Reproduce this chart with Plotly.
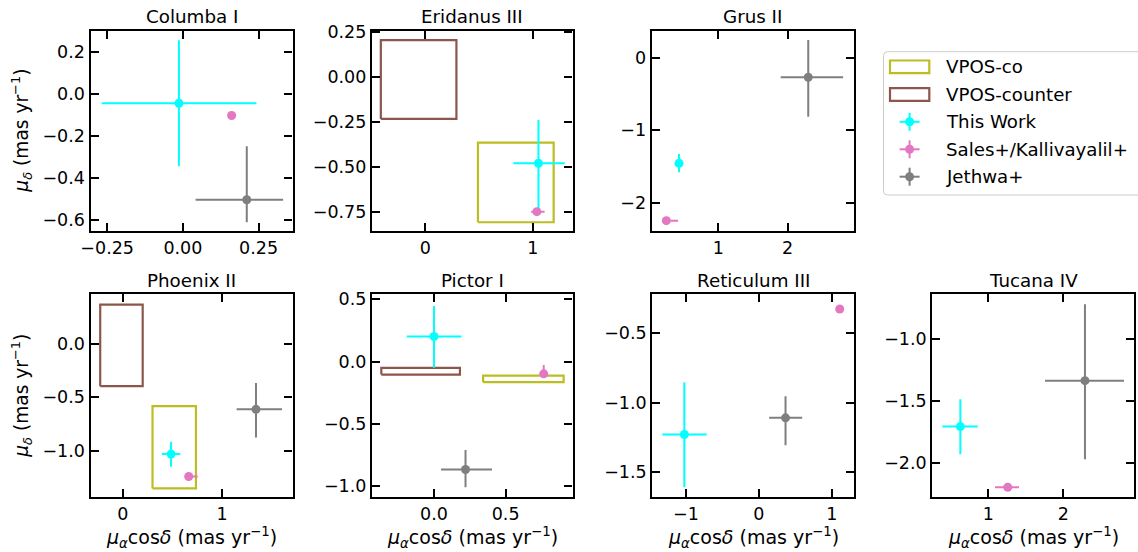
import plotly.graph_objects as go

W, H = 1138, 552

galaxies = ["Columba I", "Eridanus III", "Grus II", "Phoenix II", "Pictor I", "Reticulum III", "Tucana IV"]

# This Work (cyan)
tw_pmra = [-0.013, 1.052, 0.433, 0.487, 0.000, -1.023, 0.627]
tw_pmra_lo = [0.255, 0.234, 0.05, 0.093, 0.190, 0.302, 0.240]
tw_pmra_hi = [0.256, 0.244, 0.05, 0.093, 0.192, 0.307, 0.232]
tw_pmdec = [-0.045, -0.480, -1.457, -1.031, 0.201, -1.228, -1.705]
tw_pmdec_lo = [0.299, 0.251, 0.123, 0.118, 0.251, 0.380, 0.222]
tw_pmdec_hi = [0.299, 0.241, 0.127, 0.115, 0.246, 0.376, 0.221]

# Sales+/Kallivayalil+ (pink)
sa_pmra = [0.161, 1.037, 0.250, 0.665, 0.766, 1.110, 1.259]
sa_pmra_lo = [0.01, 0.053, 0.05, 0.04, 0.02, 0.02, 0.170]
sa_pmra_hi = [0.01, 0.072, 0.17, 0.09, 0.02, 0.02, 0.150]
sa_pmdec = [-0.103, -0.750, -2.248, -1.240, -0.099, -0.325, -2.193]
sa_pmdec_lo = [0.01, 0.02, 0.02, 0.03, 0.03, 0.02, 0.02]
sa_pmdec_hi = [0.01, 0.02, 0.02, 0.03, 0.07, 0.02, 0.02]

# Jethwa+ (gray); no value for Eridanus III
je_pmra = [0.211, None, 2.297, 1.343, 0.220, 0.366, 2.289]
je_pmra_lo = [0.169, None, 0.397, 0.195, 0.171, 0.225, 0.533]
je_pmra_hi = [0.120, None, 0.503, 0.262, 0.185, 0.229, 0.520]
je_pmdec = [-0.504, None, -0.270, -0.614, -0.868, -1.108, -1.335]
je_pmdec_lo = [0.107, None, 0.544, 0.262, 0.142, 0.197, 0.633]
je_pmdec_hi = [0.254, None, 0.514, 0.246, 0.157, 0.156, 0.615]

# VPOS predictions (rectangles)
vpos_galaxies = ["Eridanus III", "Phoenix II", "Pictor I"]
co_ra_min = [0.490, 0.300, 0.343]
co_ra_max = [1.193, 0.738, 0.905]
co_dec_min = [-0.809, -1.351, -0.166]
co_dec_max = [-0.365, -0.584, -0.113]
ct_ra_min = [-0.412, -0.227, -0.368]
ct_ra_max = [0.290, 0.201, 0.181]
ct_dec_min = [-0.233, -0.398, -0.105]
ct_dec_max = [0.207, 0.363, -0.051]

# tick values / labels per panel
x_ticks = [[-0.25, 0.0, 0.25], [0, 1], [1, 2], [0, 1], [0.0, 0.5], [-1, 0, 1], [1, 2]]
x_ticktext = [["−0.25", "0.00", "0.25"], ["0", "1"], ["1", "2"], ["0", "1"], ["0.0", "0.5"], ["−1", "0", "1"], ["1", "2"]]
y_ticks = [[0.2, 0.0, -0.2, -0.4, -0.6], [0.25, 0.0, -0.25, -0.5, -0.75], [0, -1, -2], [0.0, -0.5, -1.0],
           [0.5, 0.0, -0.5, -1.0], [-0.5, -1.0, -1.5], [-1.0, -1.5, -2.0]]
y_ticktext = [["0.2", "0.0", "−0.2", "−0.4", "−0.6"], ["0.25", "0.00", "−0.25", "−0.50", "−0.75"], ["0", "−1", "−2"],
              ["0.0", "−0.5", "−1.0"], ["0.5", "0.0", "−0.5", "−1.0"], ["−0.5", "−1.0", "−1.5"], ["−1.0", "−1.5", "−2.0"]]

# layout geometry (pixels)
x_ranges = [[-0.305, 0.362], [-0.494, 1.368], [0.039, 2.957], [-0.325, 1.711], [-0.433, 0.967], [-1.463, 1.306], [0.253, 2.943]]
y_ranges = [[-0.651, 0.300], [-0.856, 0.259], [-2.386, 0.372], [-1.434, 0.459], [-1.091, 0.540], [-1.680, -0.219], [-2.274, -0.640]]
panel_px = [(90.5, 292.5, 30.7, 230.7), (372, 572.5, 30.7, 230.7), (651.7, 854, 30.7, 230.7),
            (90.5, 292.5, 294.3, 497.3), (372, 572.5, 294.3, 497.3), (652.3, 854, 294.3, 497.3), (932.3, 1134, 294.3, 497.3)]

CYAN = "#00ffff"
PINK = "#e377c2"
GRAY = "#7f7f7f"
OLIVE = "#bcbd22"
BROWN = "#8c564b"
FONT = "DejaVu Sans"


def px(x):
    return x / W


def py(y):
    return 1 - y / H


fig = go.Figure()
layout = dict(width=W, height=H, margin=dict(l=0, r=0, t=0, b=0, pad=0, autoexpand=False),
              plot_bgcolor="white", paper_bgcolor="white",
              showlegend=False, font=dict(family=FONT, size=17.5, color="black"))
annotations = []
shapes = []

for i, name in enumerate(galaxies):
    k = "" if i == 0 else str(i + 1)
    xa, ya = "x" + k, "y" + k
    x0, x1, y0, y1 = panel_px[i]
    axis_common = dict(showline=True, linecolor="black", linewidth=2.2, mirror="ticks", ticks="inside",
                       ticklen=8, tickwidth=2.2, tickcolor="black", showgrid=False, zeroline=False,
                       automargin=False, tickfont=dict(family=FONT, size=17.5, color="black"))
    layout["xaxis" + k] = dict(axis_common, domain=[px(x0), px(x1)], anchor=ya, range=x_ranges[i],
                               tickvals=x_ticks[i], ticktext=x_ticktext[i])
    layout["yaxis" + k] = dict(axis_common, domain=[py(y1), py(y0)], anchor=xa, range=y_ranges[i],
                               tickvals=y_ticks[i], ticktext=y_ticktext[i])

    # VPOS rectangles
    if name in vpos_galaxies:
        j = vpos_galaxies.index(name)
        for rmin, rmax, dmin, dmax, col in [(co_ra_min[j], co_ra_max[j], co_dec_min[j], co_dec_max[j], OLIVE),
                                            (ct_ra_min[j], ct_ra_max[j], ct_dec_min[j], ct_dec_max[j], BROWN)]:
            fig.add_trace(go.Scatter(x=[rmin, rmax, rmax, rmin, rmin], y=[dmin, dmin, dmax, dmax, dmin],
                                     mode="lines", line=dict(color=col, width=2.2), xaxis=xa, yaxis=ya,
                                     hoverinfo="skip"))

    series = [
        (tw_pmra, tw_pmra_lo, tw_pmra_hi, tw_pmdec, tw_pmdec_lo, tw_pmdec_hi, CYAN),
        (sa_pmra, sa_pmra_lo, sa_pmra_hi, sa_pmdec, sa_pmdec_lo, sa_pmdec_hi, PINK),
        (je_pmra, je_pmra_lo, je_pmra_hi, je_pmdec, je_pmdec_lo, je_pmdec_hi, GRAY),
    ]
    for ra, ralo, rahi, de, delo, dehi, col in series:
        if ra[i] is None:
            continue
        fig.add_trace(go.Scatter(
            x=[ra[i]], y=[de[i]], mode="markers", xaxis=xa, yaxis=ya,
            marker=dict(color=col, size=9, line=dict(width=0)),
            error_x=dict(type="data", symmetric=False, array=[rahi[i]], arrayminus=[ralo[i]],
                         color=col, thickness=2, width=0),
            error_y=dict(type="data", symmetric=False, array=[dehi[i]], arrayminus=[delo[i]],
                         color=col, thickness=2, width=0),
        ))

    # panel title
    annotations.append(dict(text=name, x=px((x0 + x1) / 2), y=py(y0 - 14), xref="paper", yref="paper",
                            showarrow=False, xanchor="center", yanchor="middle",
                            font=dict(family=FONT, size=18.3, color="black")))
    # x labels for bottom row
    if i >= 3:
        annotations.append(dict(text="<i>μ<sub>α</sub></i>cos<i>δ</i> (mas yr<sup>−1</sup>)",
                                x=px((x0 + x1) / 2), y=py(537), xref="paper", yref="paper",
                                showarrow=False, xanchor="center", yanchor="middle",
                                font=dict(family=FONT, size=19, color="black")))
    if i in (0, 3):
        annotations.append(dict(text="<i>μ<sub>δ</sub></i> (mas yr<sup>−1</sup>)", textangle=-90,
                                x=px(22), y=py((y0 + y1) / 2), xref="paper", yref="paper",
                                showarrow=False, xanchor="center", yanchor="middle",
                                font=dict(family=FONT, size=18.6, color="black")))

# ---- legend (drawn manually) ----
lx0, lx1, ly0, ly1, r = 883.5, 1150, 51.7, 195, 4
path = (f"M {px(lx0 + r)},{py(ly0)} L {px(lx1)},{py(ly0)} L {px(lx1)},{py(ly1)} L {px(lx0 + r)},{py(ly1)} "
        f"Q {px(lx0)},{py(ly1)} {px(lx0)},{py(ly1 - r)} L {px(lx0)},{py(ly0 + r)} "
        f"Q {px(lx0)},{py(ly0)} {px(lx0 + r)},{py(ly0)} Z")
shapes.append(dict(type="path", path=path, xref="paper", yref="paper", line=dict(color="#cccccc", width=1),
                   fillcolor="rgba(255,255,255,0.8)", layer="above"))

legend_labels = ["VPOS-co", "VPOS-counter", "This Work", "Sales+/Kallivayalil+", "Jethwa+"]
legend_y = [66.8, 94.5, 121.8, 149.3, 176.7]
legend_colors = [OLIVE, BROWN, CYAN, PINK, GRAY]
for lab, yy, col in zip(legend_labels, legend_y, legend_colors):
    if lab.startswith("VPOS"):
        shapes.append(dict(type="rect", xref="paper", yref="paper", x0=px(890), x1=px(929.3),
                           y0=py(yy - 6.3), y1=py(yy + 6.3), line=dict(color=col, width=2.2), layer="above"))
    else:
        cx = 909.6
        shapes.append(dict(type="line", xref="paper", yref="paper", x0=px(cx - 10), x1=px(cx + 10),
                           y0=py(yy), y1=py(yy), line=dict(color=col, width=2), layer="above"))
        shapes.append(dict(type="line", xref="paper", yref="paper", x0=px(cx), x1=px(cx),
                           y0=py(yy - 9), y1=py(yy + 9), line=dict(color=col, width=2), layer="above"))
        shapes.append(dict(type="circle", xref="paper", yref="paper", xsizemode="pixel", ysizemode="pixel",
                           xanchor=px(cx), yanchor=py(yy), x0=-4.5, x1=4.5, y0=-4.5, y1=4.5,
                           fillcolor=col, line=dict(color=col, width=0), layer="above"))
    annotations.append(dict(text=lab, x=px(944), y=py(yy), xref="paper", yref="paper", showarrow=False,
                            xanchor="left", yanchor="middle", font=dict(family=FONT, size=18.2, color="black")))

layout["annotations"] = annotations
layout["shapes"] = shapes
fig.update_layout(**layout)
fig.write_html("out.html", config={"displayModeBar": False},
               post_script="document.documentElement.style.margin='0';document.documentElement.style.padding='0';"
                           "document.body.style.margin='0';document.body.style.padding='0';"
                           "document.body.style.overflow='hidden';")
